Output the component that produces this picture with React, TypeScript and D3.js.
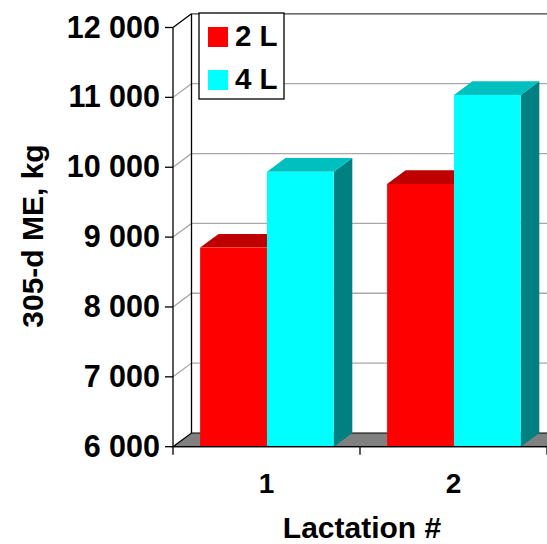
import React from "react";
import * as d3 from "d3";

const categories = ["1", "2"];
const seriesNames = ["2 L", "4 L"];
const values2L = [8850, 9760];
const values4L = [9935, 11035];
const yTicks = [6000, 7000, 8000, 9000, 10000, 11000, 12000];

const frontColors = ["#ff0000", "#00ffff"];
const topColors = ["#bf0000", "#00bfbf"];
const sideColors = ["#800000", "#008080"];

const W = 547;
const H = 544;
const DX = 18.5;
const DY = -13.7;
const FONT = "'Liberation Sans', Arial, sans-serif";

export default function App() {
  const y = d3.scaleLinear().domain([6000, 12000]).range([446.7, 27.5]);
  const x0 = d3.scaleBand<string>().domain(categories).range([173, 547]).padding(0);
  const bw = x0.bandwidth();
  const x1 = d3
    .scaleBand<string>()
    .domain(seriesNames)
    .range([bw * 0.145, bw * 0.86])
    .padding(0);
  const fmt = (v: number) => d3.format(",")(v).replace(",", " ");
  const xL = 173;
  const xR = 580;
  const y0 = y(6000);
  const yTop = y(12000);
  const series = [values2L, values4L];

  return (
    <div style={{ position: "absolute", left: 0, top: 0 }}>
      <svg width={W} height={H} style={{ display: "block" }} fontFamily={FONT} fontWeight="bold">
        <rect x={0} y={0} width={W} height={H} fill="#ffffff" />
        {/* back wall */}
        <rect x={xL + DX} y={yTop + DY} width={xR - xL} height={y0 - yTop} fill="#ffffff" />
        {/* gridlines back and left wall */}
        {yTicks.map((t) =>
          t === 6000 || t === 12000 ? null : (
            <g key={"g" + t}>
              <line x1={xL} y1={y(t)} x2={xL + DX} y2={y(t) + DY} stroke="#a0a0a0" strokeWidth={1.2} />
              <line x1={xL + DX} y1={y(t) + DY} x2={xR + DX} y2={y(t) + DY} stroke="#a8a8a8" strokeWidth={1.3} />
            </g>
          )
        )}
        {/* top back line */}
        <line x1={xL + DX} y1={yTop + DY} x2={xR + DX} y2={yTop + DY} stroke="#404040" strokeWidth={1.3} />
        <line x1={xL} y1={yTop} x2={xL + DX} y2={yTop + DY} stroke="#000" strokeWidth={1.3} />
        {/* back left vertical */}
        <line x1={xL + DX} y1={yTop + DY} x2={xL + DX} y2={y0 + DY} stroke="#000" strokeWidth={1.3} />
        {/* floor */}
        <polygon
          points={`${xL},${y0} ${xR},${y0} ${xR + DX},${y0 + DY} ${xL + DX},${y0 + DY}`}
          fill="#808080"
          stroke="#000"
          strokeWidth={1.2}
        />
        {/* bars */}
        {categories.map((c, ci) => (
          <g key={c}>
            {seriesNames.map((s, si) => {
              const v = series[si][ci];
              const bx = (x0(c) as number) + (x1(s) as number);
              const w = x1.bandwidth();
              const yv = y(v);
              return (
                <g key={s}>
                  <polygon
                    points={`${bx + w},${yv} ${bx + w + DX},${yv + DY} ${bx + w + DX},${y0 + DY} ${bx + w},${y0}`}
                    fill={sideColors[si]}
                  />
                  <polygon
                    points={`${bx},${yv} ${bx + w},${yv} ${bx + w + DX},${yv + DY} ${bx + DX},${yv + DY}`}
                    fill={topColors[si]}
                  />
                  <rect x={bx} y={yv} width={w} height={y0 - yv} fill={frontColors[si]} />
                </g>
              );
            })}
          </g>
        ))}
        {/* front axis */}
        <line x1={xL} y1={yTop} x2={xL} y2={y0} stroke="#000" strokeWidth={1.3} />
        <line x1={xL} y1={y0} x2={xR} y2={y0} stroke="#000" strokeWidth={1.3} />
        {yTicks.map((t) => (
          <g key={"t" + t}>
            <line x1={xL - 8} y1={y(t)} x2={xL} y2={y(t)} stroke="#000" strokeWidth={1.3} />
            <text x={160} y={y(t) + 10} textAnchor="end" fontSize={30.5} fill="#000">
              {fmt(t)}
            </text>
          </g>
        ))}
        {[...categories.map((c) => x0(c) as number), 547].map((xv, i) => (
          <line key={"xt" + i} x1={xv} y1={y0} x2={xv} y2={y0 + 8} stroke="#000" strokeWidth={1.3} />
        ))}
        {categories.map((c) => (
          <text key={"xl" + c} x={(x0(c) as number) + bw / 2} y={493} textAnchor="middle" fontSize={28} fill="#000">
            {c}
          </text>
        ))}
        <text x={362} y={538} textAnchor="middle" fontSize={30} fill="#000">
          Lactation #
        </text>
        <text transform="translate(43,236) rotate(-90)" textAnchor="middle" fontSize={30} fill="#000">
          305-d ME, kg
        </text>
        {/* legend */}
        <rect x={199} y={13} width={85} height={86} fill="#ffffff" stroke="#000" strokeWidth={1.3} />
        {seriesNames.map((s, si) => (
          <g key={"lg" + s}>
            <rect x={208} y={27 + si * 43} width={20} height={20} fill={frontColors[si]} />
            <text x={235} y={46 + si * 43} fontSize={29.5} fill="#000">
              {s}
            </text>
          </g>
        ))}
      </svg>
    </div>
  );
}
